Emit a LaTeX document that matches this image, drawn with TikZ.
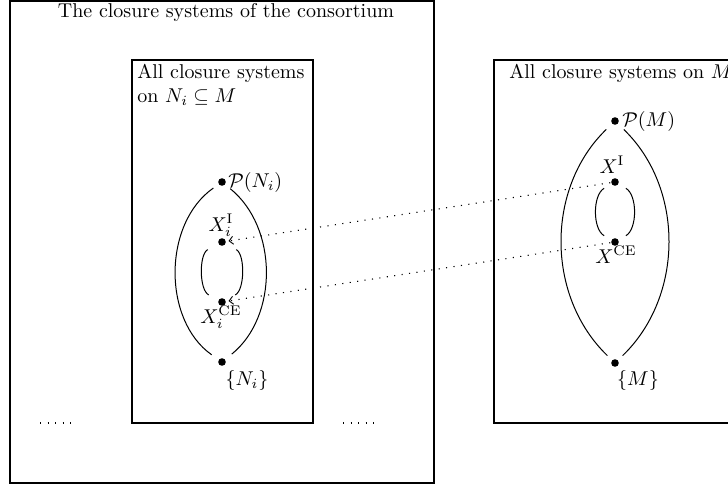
\documentclass[tikz,border=0pt]{standalone}
\usetikzlibrary{arrows.meta,calc}
\begin{document}
\begin{tikzpicture}[x=0.5pt,y=-0.5pt,
  frame/.style={draw, line width=0.8pt},
  dotnode/.style={circle, fill, inner sep=0pt, minimum size=3.8pt},
  arc/.style={line width=0.5pt},
  link/.style={line width=0.55pt, dash pattern=on 0.55pt off 3.2pt,
    -{Straight Barb[length=2pt,width=4pt,line width=0.45pt]}, shorten >=1.2pt, shorten <=0.3pt},
  etc/.style={line width=0.55pt, dash pattern=on 0.55pt off 3.2pt},
  lbl/.style={inner sep=0pt}]
\useasboundingbox (0,0) rectangle (728,487);
\clip (0,0) rectangle (728,487);

% frames
\draw[frame] (10,1) rectangle (434,483);
\draw[frame] (132,60) rectangle (313,423);
\draw[frame] (494,60) rectangle (736,423);

% titles
\node[lbl, anchor=base] (title) at (226,18) {The closure systems of the consortium};
\node[lbl, anchor=north west, align=left] (ltitle) at (137,64) {All closure systems\\on $N_i\subseteq M$};
\node[lbl, anchor=base west] (rtitle) at (509,78) {All closure systems on $M$};

% left lattice
\node[dotnode] (lP) at (222,182) {};
\node[dotnode] (lI) at (222,242) {};
\node[dotnode] (lCE) at (222,302) {};
\node[dotnode] (lN) at (222,362) {};

\node[lbl, anchor=west] (lPl) at ($(lP)+(6,0)$) {$\mathcal{P}(N_i)$};
\node[lbl, anchor=base] (lIl) at ($(lI)+(-1,-11)$) {$X_i^{\mathrm{I}}$};
\node[lbl, anchor=base] (lCEl) at ($(lCE)+(-1,21)$) {$X_i^{\mathrm{CE}}$};
\node[lbl, anchor=base] (lNl) at ($(lN)+(25,23)$) {$\{N_i\}$};

\draw[arc, shorten <=3.2pt, shorten >=4.2pt] (lP) to[bend right=55] (lN);
\draw[arc, shorten <=3.2pt, shorten >=4.2pt] (lP) to[bend left=51] (lN);
\draw[arc, shorten <=6pt, shorten >=5.4pt] (lI) to[bend right=62] (lCE);
\draw[arc, shorten <=6pt, shorten >=5.4pt] (lI) to[bend left=62] (lCE);

% right lattice
\node[dotnode] (rP) at (615,121) {};
\node[dotnode] (rI) at (615,182) {};
\node[dotnode] (rCE) at (615,242) {};
\node[dotnode] (rM) at (615,363) {};

\node[lbl, anchor=west] (rPl) at ($(rP)+(7,0)$) {$\mathcal{P}(M)$};
\node[lbl, anchor=base] (rIl) at ($(rI)+(-3,-9)$) {$X^{\mathrm{I}}$};
\node[lbl, anchor=base] (rCEl) at ($(rCE)+(1,21)$) {$X^{\mathrm{CE}}$};
\node[lbl, anchor=base] (rMl) at ($(rM)+(23,22)$) {$\{M\}$};

\draw[arc, shorten <=4pt, shorten >=3.2pt] (rP) to[bend right=46] (rM);
\draw[arc, shorten <=4pt, shorten >=3.2pt] (rP) to[bend left=46] (rM);
\draw[arc, shorten <=4.2pt, shorten >=4.2pt] (rI) to[bend right=60] (rCE);
\draw[arc, shorten <=4.2pt, shorten >=4.2pt] (rI) to[bend left=60] (rCE);

% links
\draw[link] (rI) -- (lI);
\draw[link] (rCE) -- (lCE);

% ellipses
\coordinate (e1a) at (40,423);
\coordinate (e1b) at (72,423);
\coordinate (e2a) at (343,423);
\coordinate (e2b) at (375,423);
\draw[etc] (e1a) -- (e1b);
\draw[etc] (e2a) -- (e2b);
\end{tikzpicture}
\end{document}
